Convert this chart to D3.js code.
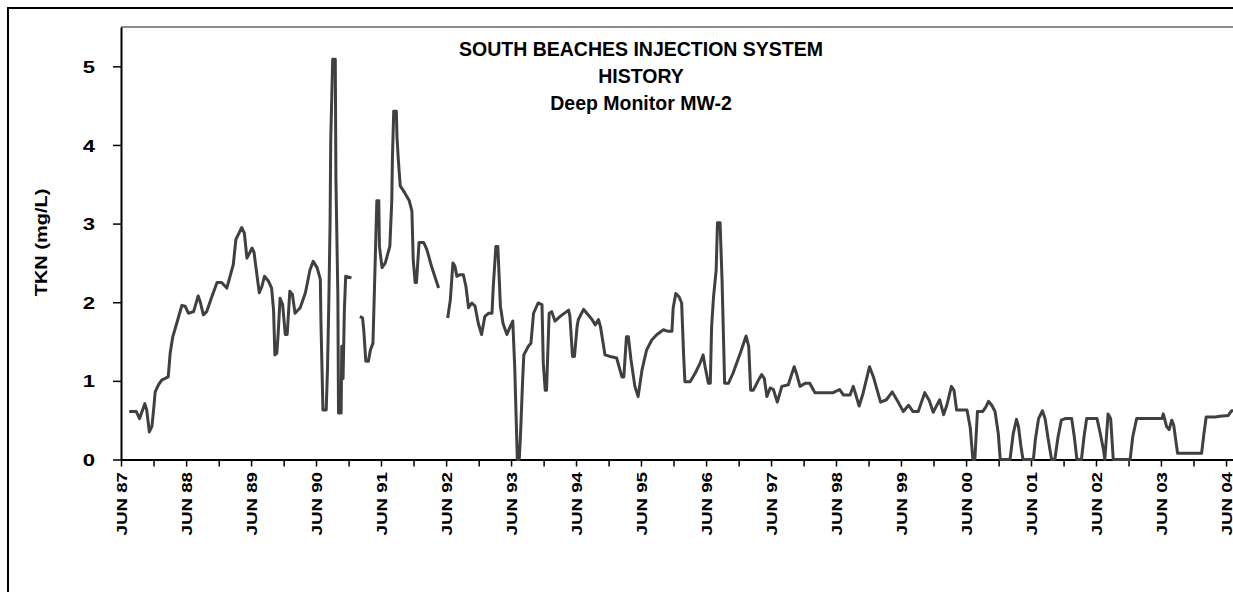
<!DOCTYPE html>
<html>
<head>
<meta charset="utf-8">
<script src="https://cdn.jsdelivr.net/npm/d3@7"></script>
<style>
body { margin: 0; background: #fff; }
text { font-family: "Liberation Sans", Arial, sans-serif; font-weight: bold; fill: #000; }
</style>
</head>
<body>
<script>
//Chart texts
var titleLines = ["SOUTH BEACHES INJECTION SYSTEM", "HISTORY", "Deep Monitor MW-2"];
var yTitle = "TKN (mg/L)";
var yTicks = [0, 1, 2, 3, 4, 5];
var tickYears = d3.range(1987, 2005);

//sample dates as decimal years, null value = gap in record
var sampleYears = [
    1987.54, 1987.65, 1987.70, 1987.78, 1987.81, 1987.85, 1987.89, 1987.92, 1987.94, 1987.99,
    1988.04, 1988.14, 1988.17, 1988.21, 1988.27, 1988.35, 1988.40, 1988.45, 1988.53, 1988.60,
    1988.63, 1988.68, 1988.73, 1988.81, 1988.89, 1988.96, 1989.04, 1989.09, 1989.14, 1989.18,
    1989.27, 1989.31, 1989.35, 1989.43, 1989.46, 1989.50, 1989.54, 1989.58, 1989.62, 1989.68,
    1989.73, 1989.76, 1989.78, 1989.81, 1989.83, 1989.86, 1989.90, 1989.94, 1989.97, 1990.01,
    1990.05, 1990.09, 1990.17, 1990.25, 1990.32, 1990.37, 1990.43, 1990.48, 1990.49, 1990.52,
    1990.57, 1990.59, 1990.61, 1990.63, 1990.64, 1990.67, 1990.71, 1990.72, 1990.75, 1990.76,
    1990.80, 1990.81, 1990.83, 1990.85, 1990.87, 1990.96, 1991.02,
    1991.09, 1991.13, 1991.15, 1991.18, 1991.22, 1991.25, 1991.29, 1991.31, 1991.33, 1991.35,
    1991.38, 1991.39, 1991.43, 1991.48, 1991.55, 1991.58, 1991.59, 1991.61, 1991.65, 1991.66,
    1991.68, 1991.71, 1991.78, 1991.85, 1991.89, 1991.91, 1991.94, 1991.96, 1992.00, 1992.07,
    1992.12, 1992.19, 1992.30, 1992.37,
    1992.44, 1992.48, 1992.52, 1992.55, 1992.58, 1992.63, 1992.68, 1992.72, 1992.76, 1992.81,
    1992.86, 1992.91, 1992.96, 1993.01, 1993.07, 1993.12, 1993.14, 1993.18, 1993.21, 1993.25,
    1993.29, 1993.35, 1993.40, 1993.44, 1993.47, 1993.49, 1993.51, 1993.54, 1993.56, 1993.59,
    1993.61, 1993.68, 1993.72, 1993.76, 1993.83, 1993.89, 1993.91, 1993.94, 1993.96, 1994.00,
    1994.04, 1994.09, 1994.17, 1994.30, 1994.32, 1994.36, 1994.39, 1994.43, 1994.45, 1994.53,
    1994.58, 1994.66, 1994.71, 1994.76, 1994.79, 1994.86, 1994.94, 1995.04, 1995.12, 1995.15,
    1995.19, 1995.22, 1995.26, 1995.32, 1995.37, 1995.43, 1995.50, 1995.58, 1995.66, 1995.76,
    1995.83, 1995.89, 1995.91, 1995.95, 1996.00, 1996.04, 1996.07, 1996.09, 1996.17, 1996.25,
    1996.32, 1996.37, 1996.40, 1996.45, 1996.48, 1996.50, 1996.53, 1996.57, 1996.59, 1996.63,
    1996.66, 1996.68, 1996.70, 1996.76, 1996.83, 1996.94, 1997.03, 1997.07, 1997.10, 1997.14,
    1997.22, 1997.27, 1997.31, 1997.35, 1997.40, 1997.45, 1997.51, 1997.58, 1997.68, 1997.73,
    1997.77, 1997.81, 1997.86, 1997.94, 1998.01, 1998.09, 1998.37, 1998.47, 1998.53, 1998.63,
    1998.68, 1998.77, 1998.83, 1998.93, 1998.99, 1999.10, 1999.19, 1999.28, 1999.37, 1999.45,
    1999.53, 1999.60, 1999.68, 1999.78, 1999.85, 1999.91, 2000.01, 2000.07, 2000.12, 2000.19,
    2000.23, 2000.27, 2000.43, 2000.48, 2000.52, 2000.55, 2000.59, 2000.67, 2000.72, 2000.76,
    2000.81, 2000.86, 2000.91, 2000.94, 2001.09, 2001.14, 2001.19, 2001.22, 2001.26, 2001.29,
    2001.45, 2001.48, 2001.53, 2001.59, 2001.63, 2001.68, 2001.73, 2001.78, 2001.83, 2001.88,
    2001.94, 2002.04, 2002.08, 2002.12, 2002.19, 2002.23, 2002.27, 2002.43, 2002.48, 2002.53,
    2002.55, 2002.60, 2002.64, 2002.68, 2002.94, 2002.98, 2003.04, 2003.43, 2003.45, 2003.50,
    2003.54, 2003.58, 2003.61, 2003.67, 2004.04, 2004.07, 2004.11, 2004.25, 2004.32, 2004.45,
    2004.50, 2004.56
];

var tkn = [
    0.61, 0.61, 0.52, 0.71, 0.63, 0.35, 0.42, 0.67, 0.86, 0.95,
    1.01, 1.05, 1.35, 1.56, 1.73, 1.96, 1.95, 1.86, 1.88, 2.08,
    2.01, 1.84, 1.88, 2.07, 2.25, 2.25, 2.18, 2.33, 2.48, 2.80,
    2.95, 2.88, 2.56, 2.69, 2.63, 2.37, 2.12, 2.20, 2.33, 2.27,
    2.18, 1.90, 1.33, 1.35, 1.59, 2.05, 1.97, 1.59, 1.59, 2.14,
    2.10, 1.86, 1.93, 2.12, 2.41, 2.52, 2.44, 2.29, 1.73, 0.63,
    0.63, 1.14, 1.97, 3.01, 4.05, 5.09, 5.09, 3.56, 2.07, 0.59,
    0.59, 1.44, 1.03, 1.90, 2.33, 2.31, null,
    1.82, 1.80, 1.63, 1.25, 1.25, 1.39, 1.48, 2.07, 2.69, 3.29,
    3.29, 2.71, 2.44, 2.50, 2.71, 3.29, 3.84, 4.43, 4.43, 4.11,
    3.82, 3.48, 3.39, 3.29, 3.16, 2.54, 2.25, 2.25, 2.76, 2.76,
    2.67, 2.46, 2.18, null,
    1.80, 2.03, 2.50, 2.46, 2.33, 2.35, 2.35, 2.20, 1.93, 1.99,
    1.95, 1.73, 1.59, 1.82, 1.86, 1.86, 2.20, 2.71, 2.71, 1.95,
    1.73, 1.59, 1.69, 1.76, 1.18, 0.59, 0.00, 0.00, 0.33, 0.97,
    1.33, 1.44, 1.48, 1.86, 1.99, 1.97, 1.22, 0.88, 0.88, 1.86,
    1.88, 1.76, 1.82, 1.90, 1.82, 1.31, 1.31, 1.69, 1.78, 1.91,
    1.86, 1.78, 1.71, 1.78, 1.69, 1.33, 1.31, 1.29, 1.05, 1.05,
    1.56, 1.56, 1.27, 0.93, 0.80, 1.14, 1.39, 1.52, 1.59, 1.65,
    1.63, 1.63, 1.93, 2.11, 2.07, 1.99, 1.33, 0.99, 0.99, 1.10,
    1.22, 1.33, 1.18, 0.97, 0.97, 1.69, 2.07, 2.41, 3.01, 3.01,
    2.29, 1.63, 0.97, 0.97, 1.10, 1.35, 1.57, 1.44, 0.88, 0.88,
    1.01, 1.08, 1.03, 0.80, 0.91, 0.89, 0.73, 0.93, 0.95, 1.08,
    1.18, 1.08, 0.93, 0.97, 0.97, 0.85, 0.85, 0.89, 0.82, 0.82,
    0.93, 0.68, 0.84, 1.18, 1.05, 0.73, 0.76, 0.86, 0.73, 0.61,
    0.69, 0.61, 0.61, 0.85, 0.75, 0.60, 0.76, 0.57, 0.69, 0.93,
    0.88, 0.63, 0.63, 0.40, 0.00, 0.00, 0.61, 0.61, 0.67, 0.74,
    0.69, 0.61, 0.33, 0.00, 0.00, 0.33, 0.51, 0.42, 0.16, 0.00,
    0.00, 0.25, 0.52, 0.62, 0.52, 0.25, 0.00, 0.00, 0.29, 0.50,
    0.52, 0.52, 0.29, 0.00, 0.00, 0.29, 0.52, 0.52, 0.33, 0.12,
    0.00, 0.58, 0.52, 0.00, 0.00, 0.29, 0.52, 0.52, 0.58, 0.42,
    0.38, 0.50, 0.44, 0.08, 0.08, 0.29, 0.54, 0.54, 0.55, 0.56,
    0.62, 0.62
];

//decimal year -> Date
function toDate(y){
    var yr = Math.floor(y);
    var s = new Date(yr, 0, 1), e = new Date(yr + 1, 0, 1);
    return new Date(+s + (y - yr) * (e - s));
}

var data = sampleYears.map(function(y, i){
    return { date: toDate(y), value: tkn[i] };
});

var w = 1233, h = 592;

var svg = d3.select("body")
    .append("svg")
    .attr("width", w)
    .attr("height", h);

//outer frame
svg.append("rect")
    .attr("x", 8)
    .attr("y", 8)
    .attr("width", 1400)
    .attr("height", 800)
    .style("fill", "none")
    .style("stroke", "#000")
    .style("stroke-width", 2);

//scales (one year = 65px)
var x = d3.scaleTime()
    .domain([new Date(1987, 5, 1), new Date(2005, 5, 1)])
    .range([121, 121 + 18 * 65]);

var y = d3.scaleLinear()
    .domain([0, 5.5])
    .range([459.5, 27]);

//plot area top border
svg.append("line")
    .attr("x1", 121)
    .attr("x2", 1400)
    .attr("y1", y(5.5))
    .attr("y2", y(5.5))
    .style("stroke", "#8c8c8c")
    .style("stroke-width", 2);

//title
svg.selectAll(".title")
    .data(titleLines)
    .enter()
    .append("text")
    .attr("class", "title")
    .attr("text-anchor", "middle")
    .attr("x", 641)
    .attr("y", function(d, i){ return 56 + i * 27; })
    .style("font-size", "19.5px")
    .text(function(d){ return d; });

//x axis: JUN major ticks, DEC minor ticks
var xTickDates = [];
tickYears.forEach(function(yr){
    xTickDates.push(new Date(yr, 5, 1));
    xTickDates.push(new Date(yr, 11, 1));
});

var xAxis = d3.axisBottom(x)
    .tickValues(xTickDates)
    .tickSize(7)
    .tickSizeOuter(0)
    .tickFormat(function(d){
        return d.getMonth() === 5 ? "JUN " + d3.timeFormat("%y")(d) : "";
    });

var gx = svg.append("g")
    .attr("class", "axis")
    .attr("transform", "translate(0," + y(0) + ")")
    .call(xAxis);

gx.select(".domain").style("stroke", "#000").style("stroke-width", 2);
gx.selectAll(".tick line").style("stroke", "#000").style("stroke-width", 1.5);
gx.selectAll(".tick text")
    .attr("x", -10)
    .attr("y", 0)
    .attr("dy", "0.36em")
    .attr("text-anchor", "end")
    .attr("transform", "rotate(-90) scale(1.25,1)")
    .style("font-size", "15px")
    .style("font-family", "'Liberation Sans', Arial, sans-serif")
    .style("font-weight", "bold")
    .attr("fill", "#000");

//y axis
var yAxis = d3.axisLeft(y)
    .tickValues(yTicks)
    .tickSize(8)
    .tickSizeOuter(0)
    .tickFormat(d3.format("d"));

var gy = svg.append("g")
    .attr("class", "axis")
    .attr("transform", "translate(121,0)")
    .call(yAxis);

gy.select(".domain").style("stroke", "#000").style("stroke-width", 2);
gy.selectAll(".tick line").style("stroke", "#000").style("stroke-width", 1.5);
gy.selectAll(".tick text")
    .attr("x", -26 / 1.3)
    .attr("dy", "0.36em")
    .attr("transform", "scale(1.3,1)")
    .style("font-size", "17px")
    .style("font-family", "'Liberation Sans', Arial, sans-serif")
    .style("font-weight", "bold")
    .attr("fill", "#000");

//y axis title
svg.append("text")
    .attr("class", "ytitle")
    .attr("text-anchor", "middle")
    .attr("transform", "translate(47," + y(2.76) + ") rotate(-90) scale(1.25,1)")
    .style("font-size", "16px")
    .text(yTitle);

//data line
var line = d3.line()
    .defined(function(d){ return d.value !== null; })
    .x(function(d){ return x(d.date); })
    .y(function(d){ return y(d.value); });

svg.append("path")
    .datum(data)
    .attr("d", line)
    .style("fill", "none")
    .style("stroke", "#404040")
    .style("stroke-width", 3)
    .style("stroke-linejoin", "round");
</script>
</body>
</html>
